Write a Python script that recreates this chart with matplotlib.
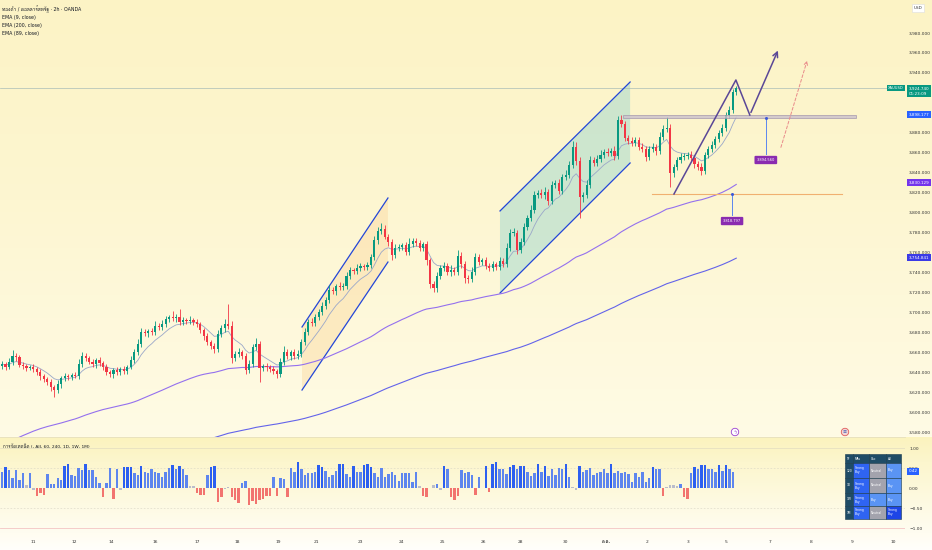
import numpy as np
import matplotlib
matplotlib.use('Agg')
import matplotlib.pyplot as plt
from matplotlib import font_manager, ft2font
from matplotlib.patches import Polygon, Rectangle

# --- data ---
first_open = 3646
closes = [3648, 3645, 3650, 3656, 3655, 3647, 3646, 3644, 3645, 3643,
          3640, 3636, 3633, 3630, 3625, 3622, 3628, 3634, 3636, 3635,
          3637, 3636, 3648, 3656, 3654, 3650, 3648, 3652, 3649, 3645,
          3640, 3638, 3642, 3640, 3643, 3641, 3645, 3652, 3660, 3668,
          3680, 3679, 3681, 3680, 3686, 3685, 3688, 3693, 3695, 3694,
          3695, 3690, 3692, 3691, 3692, 3690, 3688, 3682, 3676, 3670,
          3666, 3663, 3678, 3684, 3688, 3686, 3654, 3658, 3660, 3656,
          3642, 3648, 3665, 3668, 3644, 3646, 3645, 3643, 3641, 3638,
          3650, 3660, 3656, 3660, 3656, 3658, 3670, 3680, 3690, 3689,
          3695, 3700, 3706, 3712, 3722, 3721, 3726, 3725, 3726, 3736,
          3742, 3741, 3744, 3746, 3745, 3747, 3755, 3772, 3782, 3784,
          3776, 3770, 3757, 3764, 3765, 3767, 3760, 3768, 3771, 3769,
          3764, 3768, 3752, 3728, 3724, 3736, 3744, 3746, 3740, 3742,
          3740, 3756, 3748, 3734, 3733, 3740, 3755, 3750, 3752, 3746,
          3744, 3748, 3745, 3751, 3748, 3764, 3780, 3780, 3762, 3770,
          3786, 3795, 3803, 3818, 3820, 3818, 3821, 3812, 3828, 3830,
          3822, 3836, 3838, 3848, 3866, 3852, 3816, 3818, 3828, 3853,
          3850, 3854, 3858, 3861, 3860, 3862, 3857, 3893, 3889, 3875,
          3872, 3870, 3873, 3866, 3864, 3856, 3864, 3866, 3862, 3876,
          3884, 3885, 3840, 3846, 3853, 3856, 3857, 3858, 3855, 3849,
          3846, 3842, 3858, 3864, 3868, 3874, 3880, 3885, 3898, 3903,
          3921, 3924.74]
wick_hi = [3, 2, 4, 6, 3, 2, 3, 2, 2, 3, 2, 3, 2, 2, 3, 2, 4, 2, 3, 2,
           2, 3, 5, 4, 3, 2, 3, 2, 3, 2, 3, 2, 2, 3, 2, 3, 2, 4, 3, 5,
           4, 3, 2, 3, 5, 3, 4, 3, 2, 6, 3, 8, 3, 2, 4, 2, 3, 2, 2, 3,
           2, 3, 4, 3, 5, 20, 5, 3, 4, 2, 3, 4, 3, 6, 3, 2, 3, 2, 3, 2,
           4, 6, 3, 2, 3, 4, 3, 4, 3, 4, 3, 3, 4, 3, 5, 3, 2, 4, 3, 4,
           3, 2, 4, 3, 2, 3, 3, 5, 4, 6, 4, 3, 3, 4, 3, 2, 3, 6, 3, 4,
           3, 2, 3, 2, 3, 4, 3, 4, 3, 5, 3, 6, 4, 3, 3, 5, 4, 3, 2, 3,
           3, 3, 2, 4, 3, 5, 4, 5, 3, 4, 4, 3, 5, 4, 3, 4, 5, 3, 4, 3,
           4, 3, 5, 4, 6, 5, 4, 3, 5, 4, 3, 4, 5, 3, 4, 3, 5, 4, 5, 3,
           3, 4, 3, 3, 4, 3, 3, 4, 3, 5, 4, 11, 4, 3, 3, 4, 3, 3, 4, 3,
           3, 4, 3, 3, 4, 3, 3, 4, 3, 4, 3, 2]
wick_lo = [3, 3, 2, 3, 4, 2, 3, 3, 2, 3, 3, 4, 3, 3, 4, 7, 3, 4, 3, 3,
           3, 2, 3, 3, 3, 2, 3, 4, 3, 3, 3, 3, 4, 3, 3, 3, 3, 2, 3, 3,
           3, 3, 4, 3, 3, 3, 3, 3, 3, 3, 4, 3, 3, 3, 3, 3, 3, 3, 4, 3,
           3, 4, 3, 3, 4, 3, 5, 3, 3, 3, 4, 3, 3, 3, 14, 3, 4, 3, 3, 4,
           3, 3, 3, 4, 3, 3, 3, 3, 3, 3, 3, 3, 3, 3, 3, 3, 4, 3, 3, 3,
           3, 3, 3, 3, 3, 3, 3, 3, 4, 3, 3, 4, 5, 3, 3, 3, 3, 3, 3, 3,
           3, 3, 5, 4, 4, 4, 3, 3, 3, 4, 3, 3, 4, 5, 4, 3, 3, 3, 3, 3,
           3, 3, 3, 3, 3, 3, 3, 3, 4, 3, 3, 3, 3, 3, 3, 3, 4, 4, 3, 3,
           3, 3, 3, 3, 3, 4, 21, 5, 3, 3, 3, 3, 3, 3, 3, 3, 4, 3, 3, 3,
           3, 3, 3, 3, 3, 4, 3, 3, 4, 3, 3, 3, 14, 4, 3, 3, 3, 3, 3, 4,
           3, 4, 3, 3, 3, 3, 3, 3, 3, 3, 3, 3]

# technical rating histogram, one value per bar
rating = [0.40, 0.53, 0.45, 0.24, 0.45, 0.20, 0.37, 0.07, 0.37, -0.05,
          -0.20, -0.13, -0.18, 0.35, 0.10, 0.10, 0.24, 0.20, 0.56, 0.60,
          0.33, 0.30, 0.49, 0.45, 0.60, 0.45, 0.45, 0.28, 0.12, -0.22,
          0.12, 0.49, -0.28, 0.47, -0.05, 0.52, 0.53, 0.52, 0.37, 0.33,
          0.55, 0.41, 0.37, 0.47, 0.41, 0.37, 0.28, 0.41, 0.49, 0.57,
          0.47, 0.55, 0.47, 0.33, 0.05, 0.05, -0.13, -0.18, -0.18, 0.33,
          0.52, 0.55, -0.34, -0.22, -0.03, 0.03, -0.22, -0.30, -0.37, 0.12,
          0.18, -0.42, -0.32, -0.40, -0.30, -0.28, -0.20, -0.20, 0.28, -0.20,
          0.24, 0.22, -0.23, 0.49, 0.41, 0.66, 0.47, 0.33, 0.37, 0.37,
          0.41, 0.57, 0.53, 0.43, 0.28, 0.33, 0.43, 0.60, 0.60, 0.35,
          0.28, 0.55, 0.41, 0.41, 0.57, 0.60, 0.52, 0.37, 0.28, 0.49,
          0.28, 0.35, 0.40, 0.33, 0.18, 0.37, 0.37, 0.37, 0.16, 0.41,
          0.05, -0.20, -0.23, 0.00, 0.08, 0.10, -0.05,
          0.55, 0.47, -0.22, -0.30, -0.20, 0.45, 0.37, 0.41, 0.33, -0.18,
          0.27, 0.00, 0.55, -0.10, 0.60, 0.64, 0.47, 0.47, 0.35, 0.52,
          0.57, 0.47, 0.55, 0.55, 0.41, 0.30, 0.38, 0.60, 0.41, 0.55,
          0.30, 0.47, 0.33, 0.49, 0.47, 0.60, 0.28, 0.03, -0.05, 0.55,
          0.41, 0.45, 0.49, 0.33, 0.37, 0.41, 0.47, 0.37, 0.60, 0.37,
          0.43, 0.38, 0.40, 0.35, 0.16, 0.38, 0.28, 0.41, 0.16, 0.24,
          0.52, 0.47, 0.47, -0.20, 0.03, 0.08, 0.08, 0.05, 0.10, -0.22,
          -0.28, 0.38, 0.52, 0.47, 0.57, 0.57, 0.47, 0.47, 0.41, 0.57,
          0.43, 0.57, 0.47, 0.41]

# EMA starting values (history before the visible window)
ema89_seed = 3564
ema200_seed = 3500

# x axis: bar index of each date label
date_pos = [8.9, 20.7, 31.3, 44.0, 56.0, 67.5, 79.3, 90.2, 102.9, 114.7, 126.7,
            138.2, 149.1, 161.8, 173.6, 185.3, 197.1, 208.0, 220.7, 232.5, 244.3, 256.0]
date_lbl = ['11', '12', '14', '16', '17', '18', '19', '21', '23', '24', '25',
            '26', '28', '30', 'ต.ค.', '2', '3', '5', '7', '8', '9', '10']

# drawings: (bar index, price)
chan1_top = [(86.2, 3685.3), (110.9, 3814.6)]
chan1_bot = [(86.2, 3622.1), (110.9, 3750.4)]
chan2_top = [(143.1, 3801.6), (180.5, 3930.9)]
chan2_bot = [(143.1, 3719.3), (180.5, 3849.7)]
zone = (178.4, 245.4, 3894.56, 3898.177)
support = (186.8, 241.4, 3818.797)
zigzag = [(193.1, 3818.6), (210.9, 3932.9), (214.9, 3897.8), (223.3, 3965.0)]
alt_path = [(223.6, 3862.7), (231.6, 3954.9)]
tag_hi = (219.5, 3894.56, 3858.7, '3,894.560')
tag_lo = (209.8, 3818.797, 3797.5, '3,818.797')

right_tags = [(3898.177, '3,898.177', '#2962ff'),
              (3830.129, '3,830.129', '#7434ec'),
              (3754.841, '3,754.841', '#3b3be6')]
hidden_ticks = [3900, 3920]   # covered by the tags on the price scale

table_head = ['TF', 'MAs', 'Osc', 'All']
table_rows = [['120', 'Strong\nBuy', 'Neutral', 'Buy'],
              ['1D', 'Strong\nBuy', 'Neutral', 'Buy'],
              ['1W', 'Strong\nBuy', 'Buy', 'Buy'],
              ['1M', 'Strong\nBuy', 'Neutral', 'Strong\nBuy']]


# font with thai glyphs, if one is installed
def thai_family():
    for f in font_manager.fontManager.ttflist:
        try:
            if 0x0E01 in ft2font.FT2Font(f.fname).get_charmap():
                return f.name
        except Exception:
            pass
    return None


fams = ['DejaVu Sans']
th = thai_family()
if th:
    fams.append(th)
plt.rcParams['font.family'] = fams

W, H = 932, 550


def fx(px):
    return px / W


def fy(py):
    return 1 - py / H


fig = plt.figure(figsize=(9.32, 5.5), dpi=100)

# background gradient
stops_y = [0, 200, 436, 437, 462, 533, 550]
stops_c = np.array([[252, 243, 197], [253, 246, 209], [255, 251, 229],
                    [251, 243, 190], [252, 246, 206], [255, 253, 241], [255, 255, 252]]) / 255
rows = np.arange(H)
grad = np.stack([np.interp(rows, stops_y, stops_c[:, k]) for k in range(3)], axis=1)
bg = fig.add_axes([0, 0, 1, 1], zorder=-10)
bg.imshow(grad[:, None, :], aspect='auto', extent=[0, 1, 0, 1])
bg.axis('off')

ax = fig.add_axes([0, fy(437), fx(905), 437 / H], facecolor='none')
ax2 = fig.add_axes([0, fy(533), fx(905), 96 / H], facecolor='none', sharex=ax)

x = np.arange(len(closes))
c = np.array(closes, dtype=float)
o = np.array([first_open] + closes[:-1], dtype=float)
hi = np.maximum(o, c) + np.array(wick_hi)
lo = np.minimum(o, c) - np.array(wick_lo)
up = c >= o
ccol = np.where(up, '#089981', '#f23645')


def ema(vals, span, seed):
    a = 2 / (span + 1)
    out, e = [], seed
    for v in vals:
        e = e + a * (v - e)
        out.append(e)
    return np.array(out)


ema9 = ema(c, 9, c[0])
ema89 = ema(c, 89, ema89_seed)
ema200 = ema(c, 200, ema200_seed)

# channels
for top, bot, fc, al in [(chan1_top, chan1_bot, '#fbd9a0', 0.45), (chan2_top, chan2_bot, '#9fd8cf', 0.5)]:
    poly = Polygon([top[0], top[1], bot[1], bot[0]], closed=True, fc=fc, alpha=al, ec='none', zorder=1)
    ax.add_patch(poly)
    for ln in (top, bot):
        ax.plot([p[0] for p in ln], [p[1] for p in ln], color='#2346d8', lw=0.9, zorder=2)

# moving averages
ax.plot(x, ema200, color='#6363ea', lw=0.8, zorder=2)
ax.plot(x, ema89, color='#9470ee', lw=0.8, zorder=2)
ax.plot(x, ema9, color='#9aa7c9', lw=0.6, zorder=3)

# candles
ax.vlines(x, lo, hi, color=ccol, lw=0.6, zorder=4)
ax.bar(x, np.maximum(np.abs(c - o), 0.7), bottom=np.minimum(o, c), width=0.62,
       color=ccol, linewidth=0, zorder=5)

# last price line
ax.axhline(closes[-1], color='#a9bdb6', lw=0.5, zorder=1)

# zone and support
ax.add_patch(Rectangle((zone[0], zone[2]), zone[1] - zone[0], zone[3] - zone[2],
                       fc='#cbc0cc', ec='#a295ad', lw=0.6, alpha=0.8, zorder=6))
ax.plot([support[0], support[1]], [support[2], support[2]], color='#f0b070', lw=0.8, zorder=6)

# projected paths
ax.plot([p[0] for p in zigzag[:-1]], [p[1] for p in zigzag[:-1]], color='#5a4797', lw=1.1, zorder=7)
ax.annotate('', xy=zigzag[-1], xytext=zigzag[-2],
            arrowprops=dict(arrowstyle='->', color='#5a4797', lw=1.1, mutation_scale=9), zorder=7)
ax.annotate('', xy=alt_path[1], xytext=alt_path[0],
            arrowprops=dict(arrowstyle='->', color='#e98a8a', lw=0.7, ls=(0, (3, 2)), mutation_scale=6), zorder=7)

# price tags with leader lines
for xi, ytop, ybox, txt in (tag_hi, tag_lo):
    ax.plot([xi, xi], [ytop, ybox], color='#5b86ef', lw=0.7, zorder=7)
    ax.plot([xi], [ytop], marker='o', ms=1.2, color='#3d5ad8', zorder=8)
    ax.text(xi, ybox - 6, txt, ha='center', va='center', fontsize=2.6, color='white', zorder=9,
            bbox=dict(boxstyle='round,pad=0.6,rounding_size=0.3', fc='#8a2bb0', ec='none'))

ax.set_xlim(-0.6, 259.5)
ax.set_ylim(3575.0, 4013.1)
ax.yaxis.tick_right()
yt = [v for v in range(3580, 3981, 20) if v not in hidden_ticks]
ax.set_yticks(yt)
ax.set_yticklabels([f'{v:,.3f}' for v in yt])
ax.tick_params(axis='y', length=0, pad=3, labelsize=3.2, labelcolor='#333333')
ax.tick_params(axis='x', bottom=False, labelbottom=False)
for s in ax.spines.values():
    s.set_visible(False)

# right side tags of the price scale
for val, txt, col in right_tags:
    ax.text(1.004, val, txt, transform=ax.get_yaxis_transform(), ha='left', va='center',
            fontsize=3.0, color='white', zorder=10, clip_on=False,
            bbox=dict(boxstyle='square,pad=0.35', fc=col, ec='none'))
ax.text(1.004, closes[-1] - 3, '3,924.740\n01:23:09', transform=ax.get_yaxis_transform(),
        ha='left', va='center', fontsize=3.0, color='white', linespacing=1.3, clip_on=False, zorder=10,
        bbox=dict(boxstyle='square,pad=0.35', fc='#089981', ec='none'))
ax.text(0.9985, closes[-1], 'XAUUSD', transform=ax.get_yaxis_transform(), ha='right', va='center',
        fontsize=2.6, color='white', clip_on=False, zorder=10,
        bbox=dict(boxstyle='square,pad=0.35', fc='#089981', ec='none'))
fig.text(fx(918), fy(8), 'USD', ha='center', va='center', fontsize=3.0, color='#333333',
         bbox=dict(boxstyle='square,pad=0.5', fc='white', ec='#dddddd', lw=0.4))

# legend text
fig.text(fx(2), fy(9), 'ทองคำ / ดอลลาร์สหรัฐ · 2h · OANDA', fontsize=3.4, color='#131722', va='center')
for k, t in enumerate(['EMA (9, close)', 'EMA (200, close)', 'EMA (89, close)']):
    fig.text(fx(2), fy(17 + 8 * k), t, fontsize=3.4, color='#131722', va='center')

# event icons on the time line
fig.text(fx(735), fy(432), 'ϟ', ha='center', va='center', fontsize=3.5, color='#9b3fd0',
         bbox=dict(boxstyle='circle,pad=0.25', fc='white', ec='#9b3fd0', lw=0.6))
fig.text(fx(845), fy(432), '≡', ha='center', va='center', fontsize=3.5, color='#2f4fb0',
         bbox=dict(boxstyle='circle,pad=0.25', fc='#f3d6d6', ec='#e05a5a', lw=0.6))

# rating histogram
r = np.array(rating)
rcol = np.where(r >= 0.5, '#2c5ff0', np.where(r >= 0.1, '#5e86ee',
                np.where(r > -0.1, '#b9bccb', '#f2746f')))
ax2.bar(np.arange(len(r)), r, width=0.7, color=rcol, linewidth=0, zorder=3)
ax2.axhline(1.0, color='#e2dcc0', lw=0.5)
ax2.axhline(-1.0, color='#f4c4c4', lw=0.6)
ax2.axhline(0.5, color='#d8d4c4', lw=0.4, ls=(0, (3, 3)))
ax2.axhline(-0.5, color='#d8d4c4', lw=0.4, ls=(0, (3, 3)))
ax2.set_ylim(-1.125, 1.275)
ax2.yaxis.tick_right()
ax2.set_yticks([1, 0.5, 0, -0.5, -1])
ax2.set_yticklabels(['1.00', '0.50', '0.00', '\u22120.50', '\u22121.00'])
ax2.tick_params(axis='y', length=0, pad=3, labelsize=3.2, labelcolor='#333333')
ax2.set_xticks(date_pos)
ax2.set_xticklabels(date_lbl)
for t in ax2.get_xticklabels():
    if t.get_text() == 'ต.ค.':
        t.set_fontweight('bold')
ax2.tick_params(axis='x', length=0, pad=5, labelsize=3.2, labelcolor='#333333')
for k, s in ax2.spines.items():
    s.set_visible(k == 'top')
ax2.spines['top'].set_color('#e6dfbe')
ax2.spines['top'].set_linewidth(0.6)
ax2.text(1.004, 0.42, '0.42', transform=ax2.get_yaxis_transform(), ha='left', va='center',
         fontsize=3.0, color='white', clip_on=False, zorder=10,
         bbox=dict(boxstyle='square,pad=0.35', fc='#2962ff', ec='none'))
ax2.text(0.003, 0.9, 'การจัดเทคนิค (, All, 60, 240, 1D, 1W, 1M)', transform=ax2.transAxes,
         fontsize=3.2, color='#131722', va='center')

# ratings summary table
col_x = [845, 853, 869, 886, 901]
row_y = [454, 463, 478, 493, 506, 519]
cell_fc = {'Strong\nBuy': '#2f64f2', 'Neutral': '#a3a3ad', 'Buy': '#5a94f4'}
grid = [table_head] + table_rows
for ri, row in enumerate(grid):
    for ci, txt in enumerate(row):
        if ri == 0 or ci == 0:
            fc = '#1f4c66'
        elif ri == 4 and ci == 3:
            fc = '#1d45e6'
        else:
            fc = cell_fc[txt]
        x0, x1 = col_x[ci], col_x[ci + 1]
        y0, y1 = row_y[ri], row_y[ri + 1]
        fig.patches.append(Rectangle((fx(x0), fy(y1)), fx(x1 - x0), (y1 - y0) / H,
                                     transform=fig.transFigure, fc=fc, ec='#17384c', lw=0.4, zorder=5))
        fig.text(fx(x0 + 1.5), fy((y0 + y1) / 2), txt, fontsize=2.2, color='white', va='center',
                 ha='left', linespacing=1.0, zorder=6)

fig.savefig('out.png', dpi=100)
